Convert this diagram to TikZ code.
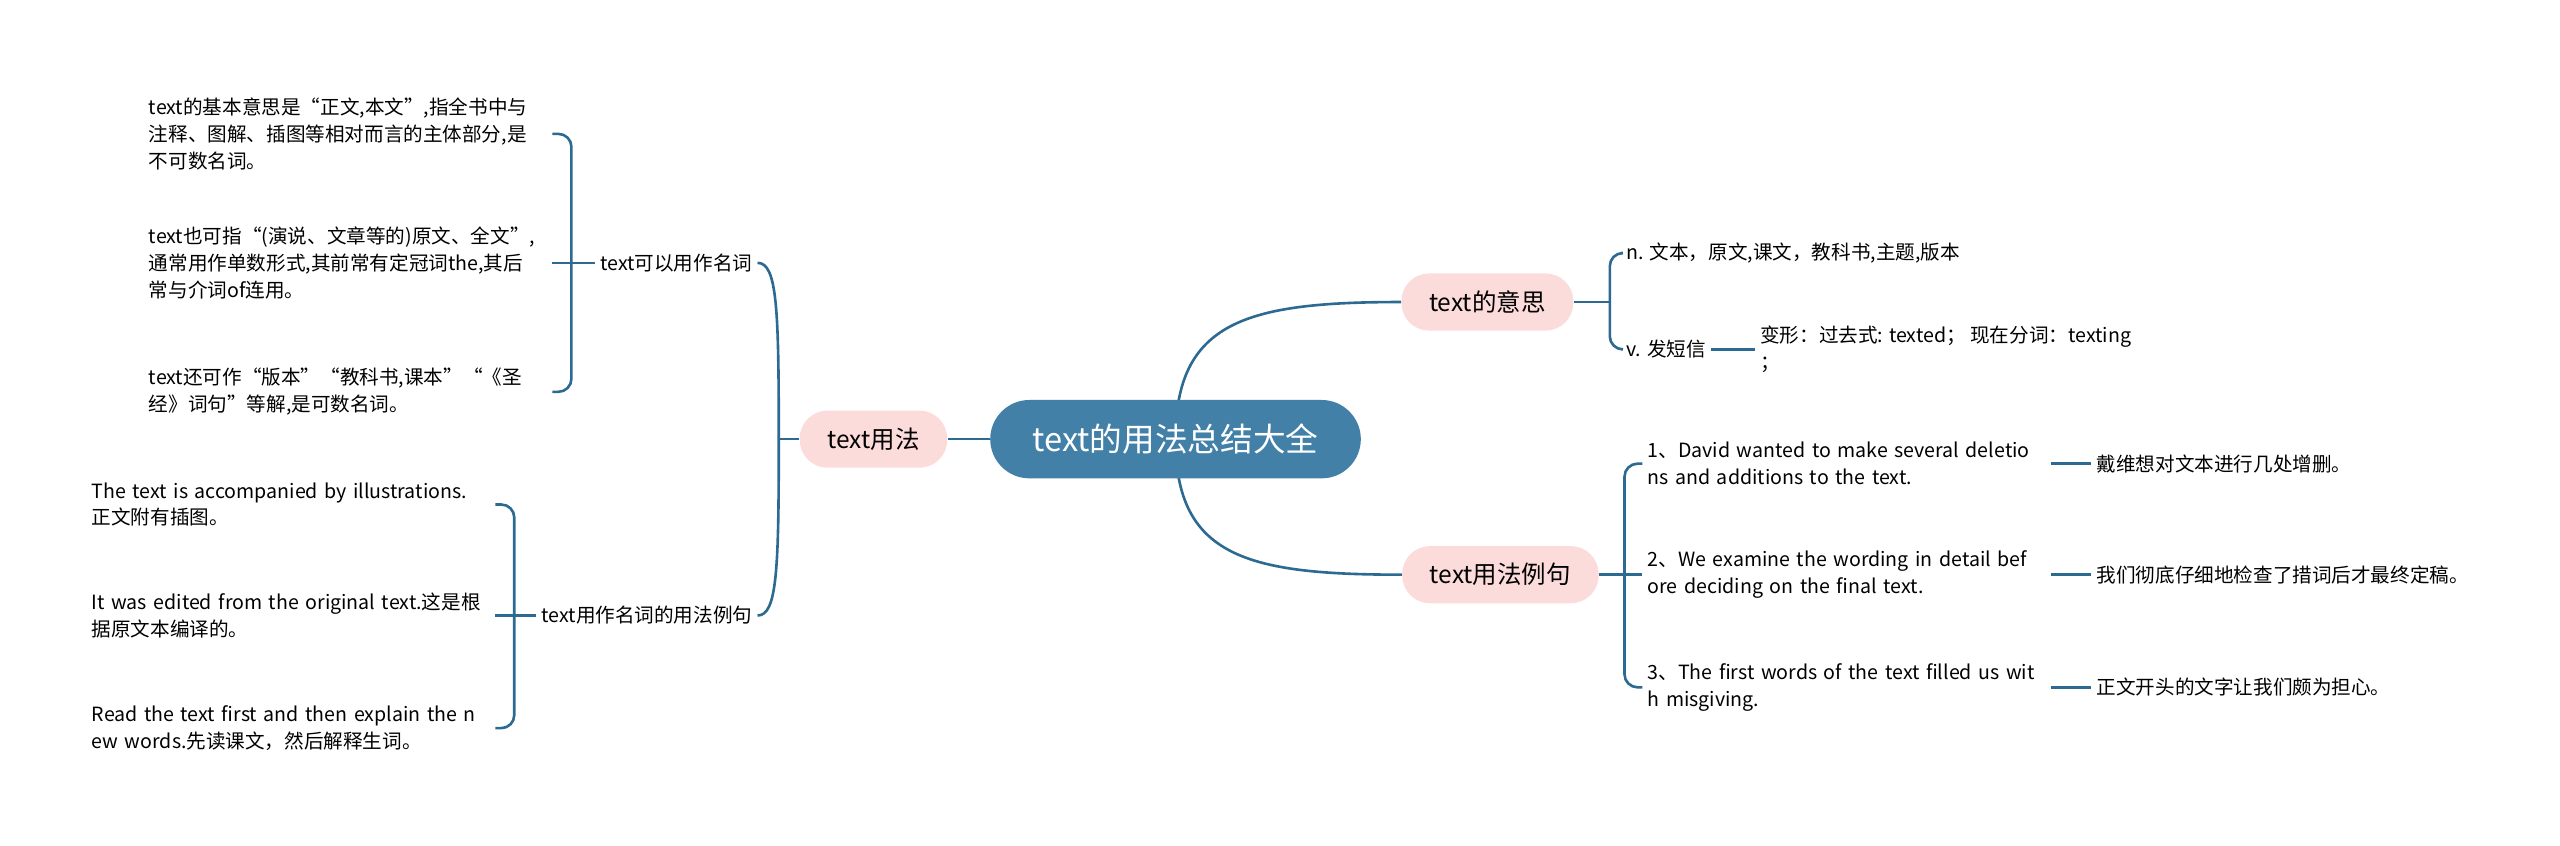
\documentclass[tikz,border=0pt]{standalone}
\usepackage{fontspec}
\setmainfont{Noto Sans CJK SC}
\usetikzlibrary{backgrounds}
\definecolor{rootblue}{RGB}{66,128,168}
\definecolor{linkblue}{RGB}{45,106,145}
\definecolor{topicpink}{RGB}{252,220,218}
\begin{document}
\begin{tikzpicture}[x=1pt,y=1pt,
  link/.style={draw=linkblue,line width=1.6pt},
  brace/.style={link,rounded corners=8pt},
  rootnode/.style={fill=rootblue,text=white,rounded corners=24pt,minimum width=227pt,minimum height=48pt,font=\fontsize{20}{24}\selectfont},
  topic/.style={fill=topicpink,rounded corners=17pt,minimum height=35pt,inner xsep=17pt,font=\fontsize{15}{18}\selectfont},
  leaf/.style={inner sep=3pt,align=left,font=\fontsize{12}{16.5}\selectfont},
  note/.style={leaf,text width=244pt}]
\useasboundingbox (0,0) rectangle (1568,518);

\node[rootnode] (root) at (720,249) {text的用法总结大全};
\node[topic] (usage) at (535,249) {text用法};
\node[topic] (meaning) at (911,333) {text的意思};
\node[topic] (examples) at (919,166) {text用法例句};

% left side
\node[leaf,anchor=east] (asnoun) at (464,357) {text可以用作名词};
\node[leaf,anchor=east] (nounex) at (464,141) {text用作名词的用法例句};

\node[note,anchor=west] (a1) at (88,436) {text的基本意思是“正文,本文”,指全书中与\\注释、图解、插图等相对而言的主体部分,是\\不可数名词。};
\node[note,anchor=west] (a2) at (88,357) {text也可指“(演说、文章等的)原文、全文”,\\通常用作单数形式,其前常有定冠词the,其后\\常与介词of连用。};
\node[note,anchor=west] (a3) at (88,278) {text还可作“版本”“教科书,课本”“《圣\\经》词句”等解,是可数名词。};

\node[note,anchor=west] (b1) at (53,209) {The text is accompanied by illustrations.\\正文附有插图。};
\node[note,anchor=west] (b2) at (53,141) {It was edited from the original text.这是根\\据原文本编译的。};
\node[note,anchor=west] (b3) at (53,72) {Read the text first and then explain the n\\ew words.先读课文，然后解释生词。};

% right side
\node[leaf,anchor=west] (noun) at (993,363) {n. 文本，原文,课文，教科书,主题,版本};
\node[leaf,anchor=west] (verb) at (993,304) {v. 发短信};
\node[leaf,anchor=west] (forms) at (1075,304) {变形：过去式: texted； 现在分词：texting\\；};

\node[note,anchor=west] (e1) at (1006,234) {1、David wanted to make several deletio\\ns and additions to the text.};
\node[note,anchor=west] (e2) at (1006,166) {2、We examine the wording in detail bef\\ore deciding on the final text.};
\node[note,anchor=west] (e3) at (1006,97) {3、The first words of the text filled us wit\\h misgiving.};
\node[leaf,anchor=west] (t1) at (1281,234) {戴维想对文本进行几处增删。};
\node[leaf,anchor=west] (t2) at (1281,166) {我们彻底仔细地检查了措词后才最终定稿。};
\node[leaf,anchor=west] (t3) at (1281,97) {正文开头的文字让我们颇为担心。};

\begin{scope}[on background layer]
\draw[link] (root.center) .. controls +(0,72) and +(-95,0) .. (meaning.west);
\draw[link] (root.center) .. controls +(0,-72) and +(-95,0) .. (examples.west);
\draw[link] (root) -- (usage);

\draw[link] (usage.west) -- (477,249) coordinate (usagebr);
\draw[link] (usagebr) .. controls +(0,80) and +(12,0) .. (asnoun.east);
\draw[link] (usagebr) .. controls +(0,-80) and +(12,0) .. (nounex.east);

\draw[link] (asnoun.west) -- (350,357) coordinate (abr);
\foreach \c in {a1,a3}
  \draw[brace] (abr) |- (\c.east);
\draw[link] (abr) -- (a2.east);

\draw[link] (nounex.west) -- (315,141) coordinate (bbr);
\foreach \c in {b1,b3}
  \draw[brace] (bbr) |- (\c.east);
\draw[link] (bbr) -- (b2.east);

\draw[link] (meaning.east) -- (986,333) coordinate (mbr);
\foreach \c in {noun,verb}
  \draw[brace] (mbr) |- (\c.west);
\draw[link] (verb) -- (forms);

\draw[link] (examples.east) -- (995,166) coordinate (ebr);
\foreach \c in {e1,e3}
  \draw[brace] (ebr) |- (\c.west);
\draw[link] (ebr) -- (e2.west);
\foreach \i in {1,2,3}
  \draw[link] (e\i.east) -- (t\i.west);
\end{scope}
\end{tikzpicture}
\end{document}
